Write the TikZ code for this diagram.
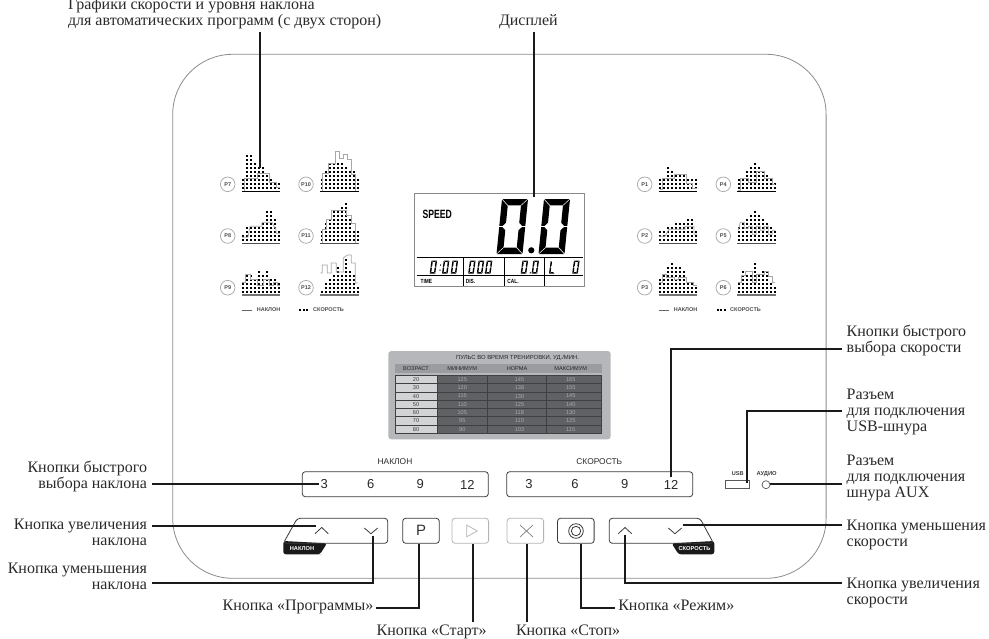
\documentclass[tikz,border=0pt]{standalone}
\usepackage{fontspec}
\setmainfont{Liberation Serif}
\newfontfamily\sff{Liberation Sans}
\definecolor{ink}{HTML}{1A1A1A}
\definecolor{txt}{HTML}{2A2A2A}
\definecolor{panelc}{HTML}{8C8C8C}
\definecolor{btnc}{HTML}{3A3A3A}
\definecolor{btnl}{HTML}{B4B4B4}
\definecolor{card}{HTML}{B6B7BA}
\definecolor{hdr}{HTML}{9B9C9F}
\definecolor{cellL}{HTML}{D2D3D5}
\definecolor{cellD}{HTML}{606164}
\definecolor{cellT}{HTML}{A9AAAC}
\definecolor{lcdb}{HTML}{8A8A8A}
\definecolor{prof}{HTML}{A8A8A8}
\tikzset{
  lead/.style={draw=ink,line width=1.9pt},
  lbl/.style={font=\fontsize{16}{16}\selectfont,text=txt,inner sep=0pt,outer sep=0pt},
  lblL/.style={lbl,align=right,anchor=base east},
  lblR/.style={lbl,align=left,anchor=base west},
  lbl1/.style={lbl,anchor=base west},
  keybox/.style={draw=btnc,line width=0.8pt,rounded corners=3pt,minimum width=36.6pt,minimum height=25pt,inner sep=0pt},
  keylite/.style={keybox,draw=btnl},
  quick/.style={keybox,minimum width=186pt},
  qnum/.style={font=\sff\fontsize{13}{14}\selectfont,text=txt,inner sep=0pt},
  caps/.style={font=\sff\fontsize{8.4}{9}\selectfont,text=txt,inner sep=0pt},
  tabtxt/.style={font=\sff\fontsize{5.6}{6}\selectfont,text=#1,inner sep=0pt},
  tablabel/.style={font=\sff\bfseries\fontsize{5.7}{6}\selectfont,text=white,inner sep=0pt},
  chev/.style={draw=btnc,line width=0.8pt},
  progc/.style={circle,draw=gray!70,line width=0.7pt,minimum size=14.6pt,inner sep=0pt,font=\sff\bfseries\fontsize{5.5}{6}\selectfont,text=black!70},
  legtxt/.style={font=\sff\bfseries\fontsize{5.5}{6}\selectfont,text=black!70,inner sep=0pt,anchor=west},
  lcdlab/.style={font=\sff\bfseries\fontsize{6}{6}\selectfont,text=black,inner sep=0pt,anchor=west,xscale=0.8},
  seg/.style={fill=black,draw=none},
}
% one incline/speed chart: x, y of baseline left, dot heights, profile points, baseline colour
\newcommand\progchart[5]{%
  \begin{scope}[shift={(#1,#2)}]
    \foreach \hh [count=\ci from 0] in {#3}{
      \foreach \rr in {1,...,\hh}{
        \fill[black] ({0.25+4*\ci},{-3.4-4*(\rr-1)-1}) rectangle ++(2,2);
      }
    }
    \draw[prof,line width=0.75pt] plot coordinates {#4};
    \draw[#5,line width=1.2pt] (0,0) -- (38.4,0);
  \end{scope}}
% seven-segment parts
\newcommand\segT{\fill[seg] (\dc,0) -- ({\dw-\dc},0) -- ({\dw-\dt-\dg},\dt) -- ({\dt+\dg},\dt) -- cycle;}
\newcommand\segB{\fill[seg] (\dc,\dh) -- ({\dw-\dc},\dh) -- ({\dw-\dt-\dg},{\dh-\dt}) -- ({\dt+\dg},{\dh-\dt}) -- cycle;}
\newcommand\segLU{\fill[seg] (0,\dc) -- (\dt,{\dt+\dg}) -- (\dt,{\dh/2-\dt/2-\dg}) -- ({\dt/2},{\dh/2-\dg}) -- (0,{\dh/2-\dg}) -- cycle;}
\newcommand\segLL{\fill[seg] (0,{\dh-\dc}) -- (\dt,{\dh-\dt-\dg}) -- (\dt,{\dh/2+\dt/2+\dg}) -- ({\dt/2},{\dh/2+\dg}) -- (0,{\dh/2+\dg}) -- cycle;}
\newcommand\segRU{\fill[seg] (\dw,\dc) -- ({\dw-\dt},{\dt+\dg}) -- ({\dw-\dt},{\dh/2-\dt/2-\dg}) -- ({\dw-\dt/2},{\dh/2-\dg}) -- (\dw,{\dh/2-\dg}) -- cycle;}
\newcommand\segRL{\fill[seg] (\dw,{\dh-\dc}) -- ({\dw-\dt},{\dh-\dt-\dg}) -- ({\dw-\dt},{\dh/2+\dt/2+\dg}) -- ({\dw-\dt/2},{\dh/2+\dg}) -- (\dw,{\dh/2+\dg}) -- cycle;}
% digit zero: x, y, w, h, thickness, slant, gap
\newcommand\lcdzero[7]{%
  \begin{scope}[shift={(#1,#2)},xslant=#6]
    \def\dw{#3}\def\dh{#4}\def\dt{#5}\def\dg{#7}\def\dc{#7}%
    \segT\segB\segLU\segLL\segRU\segRL
  \end{scope}}
\newcommand\lcdL[7]{%
  \begin{scope}[shift={(#1,#2)},xslant=#6]
    \def\dw{#3}\def\dh{#4}\def\dt{#5}\def\dg{#7}\def\dc{#7}%
    \segB\segLU\segLL
  \end{scope}}
\begin{document}
\begin{tikzpicture}[x=1pt,y=-1pt]
\useasboundingbox (0,0) rectangle (989,638);
\fill[white] (0,0) rectangle (989,638);
\clip (0,0) rectangle (989,638);

% panel
\node[draw=panelc,line width=0.8pt,rounded corners=60pt,minimum width=653.4pt,minimum height=524pt,inner sep=0pt] (panel) at (499.4,316.3) {};

% programme charts
\node[progc] (p7) at (227.7,184.3) {P7};
\node[progc] (p8) at (227.7,236) {P8};
\node[progc] (p9) at (227.7,287.7) {P9};
\node[progc] (p10) at (306,184.3) {P10};
\node[progc] (p11) at (306,236) {P11};
\node[progc] (p12) at (306,287.7) {P12};
\node[progc] (p1) at (644.7,184.3) {P1};
\node[progc] (p2) at (644.7,236) {P2};
\node[progc] (p3) at (644.7,287.7) {P3};
\node[progc] (p4) at (723.3,184.3) {P4};
\node[progc] (p5) at (723.3,236) {P5};
\node[progc] (p6) at (723.3,287.7) {P6};

\progchart{242}{191.7}{3,9,9,7,6,6,4,3,2,2}{(2,0)(2,-13)(15,-13)(15,-18)(27,-18)(27,-9)(34,-9)(34,-4)(38,-4)}{black}
\progchart{242}{243.3}{2,4,4,4,4,5,8,8,6,3}{(0,-6)(6,-6)(8,-17)(20,-17)(20,-21)(30,-21)(32,-17)(34,-14)(34,-10)(38,-10)}{black!70}
\progchart{242}{295}{3,5,5,4,6,5,6,4,4,3}{(0,-13)(3,-13)(3,-21)(8,-21)(8,-16)(15,-16)(15,-10)(21,-10)(21,-16)(27,-16)(27,-10)(31,-10)(31,-13)(35,-13)(35,-10)(38,-10)}{black!55}
\progchart{320.3}{191.7}{3,5,7,7,7,7,6,5,5,3}{(2,0)(2,-18)(8,-18)(8,-28)(15,-28)(15,-40)(19,-40)(19,-33)(23,-33)(23,-37)(27,-37)(27,-32)(31,-32)(31,-17)(35,-17)(35,0)}{black}
\progchart{320.3}{243.3}{3,5,6,8,8,9,10,6,3,3}{(2,0)(2,-14)(6,-14)(6,-24)(11,-24)(11,-33)(26,-33)(26,-28)(31,-28)(31,-20)(35,-20)(35,0)}{black!70}
\progchart{320.3}{295}{1,3,4,5,7,5,9,6,5,2}{(0,-22)(2,-22)(2,-30)(7,-30)(7,-22)(11,-22)(11,-32)(16,-32)(16,-23)(23,-23)(23,-37)(27,-40)(31,-40)(31,-32)(35,-32)(35,-12)(38,-12)}{black!55}
\progchart{659}{191.7}{3,3,6,5,4,4,4,3,3,3}{(1,-2)(3,-2)(3,-13)(15,-13)(15,-17)(27,-17)(27,-8)(33,-8)(33,-3)(38,-3)}{black}
\progchart{659}{243.3}{3,3,4,4,5,5,5,6,6,3}{(0,-7)(6,-7)(10,-14)(26,-14)(26,-17)(35,-17)(35,-9)(38,-9)}{black!70}
\progchart{659}{295}{4,5,7,8,7,7,6,3,3,2}{(0,-13)(3,-13)(3,-21)(7,-21)(7,-18)(15,-18)(15,-16)(19,-16)(19,-18)(27,-18)(27,-13)(34,-13)(34,-10)(38,-10)}{black!55}
\progchart{737.3}{191.7}{3,3,5,6,7,6,5,4,3,2}{(1,-1)(3,-1)(3,-13)(11,-13)(11,-9)(19,-9)(19,-20)(27,-20)(27,-13)(35,-13)(35,-7)(38,-7)}{black}
\progchart{737.3}{243.3}{4,5,6,7,8,7,6,5,4,3}{(1,-13)(3,-21)(7,-21)(7,-15)(11,-15)(11,-17)(15,-17)(15,-9)(19,-9)(19,-17)(23,-17)(23,-13)(27,-13)(27,-17)(31,-17)(31,-9)(35,-9)(35,-13)(38,-13)}{black!70}
\progchart{737.3}{295}{3,6,5,5,8,5,6,6,3,2}{(1,-13)(4,-13)(4,-20)(8,-20)(8,-24)(15,-24)(15,-13)(19,-13)(19,-21)(27,-21)(27,-24)(31,-24)(31,-19)(35,-19)(35,-13)(38,-13)}{black!55}

% chart legends
\draw[black!60,line width=0.7pt] (241.7,310) -- (252.3,310);
\node[legtxt] (legA1) at (256.7,310) {НАКЛОН};
\foreach \dx in {0,3.6,7.2}{\fill[black] ({299+\dx},309) rectangle ++(2,2);}
\node[legtxt] (legA2) at (313,310) {СКОРОСТЬ};
\draw[black!60,line width=0.7pt] (659,310) -- (669.3,310);
\node[legtxt] (legB1) at (673.7,310) {НАКЛОН};
\foreach \dx in {0,3.6,7.2}{\fill[black] ({716.7+\dx},309) rectangle ++(2,2);}
\node[legtxt] (legB2) at (730,310) {СКОРОСТЬ};

% display
\node[draw=lcdb,line width=1.1pt,minimum width=170.3pt,minimum height=92.7pt,inner sep=0pt] (display) at (499.2,239.7) {};
\node[font=\sff\bfseries\fontsize{12}{12}\selectfont,inner sep=0pt,anchor=west,xscale=0.72,text=black] (speed) at (422.5,214) {SPEED};
\lcdzero{502}{199}{26}{55}{6.4}{0.1}{0.6}
\lcdzero{544}{199}{26}{55}{6.4}{0.1}{0.6}
\fill[black] (531.3,250.3) circle (3.1);
\draw[black,line width=0.9pt] (416.5,257.5) -- (582.5,257.5);
\draw[black,line width=0.9pt] (416.5,275) -- (582.5,275);
\foreach \vx in {463.3,504,544}{
  \draw[black,line width=0.7pt] (\vx,258) -- (\vx,274.5);
  \draw[black,line width=0.7pt] (\vx,276) -- (\vx,285.5);
}
\foreach \dx in {431.5,443.8,452.5,470,478.6,486.8,522.5,533.4,574}{
  \lcdzero{\dx}{260.5}{5.6}{13}{1.45}{0.14}{0.25}
}
\fill[black] (440.6,265) circle (0.75) (440,270) circle (0.75) (485.2,272.8) circle (0.75) (530.3,272.8) circle (0.75);
\lcdL{550.8}{260.5}{5.6}{13}{1.45}{0.14}{0.25}
\node[lcdlab] (ltime) at (420.5,281) {TIME};
\node[lcdlab] (ldis) at (465.7,281) {DIS.};
\node[lcdlab] (lcal) at (507.3,281) {CAL.};

% pulse table
\node[fill=card,rounded corners=3pt,minimum width=222.4pt,minimum height=88.3pt,inner sep=0pt] (tcard) at (499.5,395.2) {};
\node[tabtxt=black!85,font=\sff\fontsize{5.9}{6}\selectfont] (ttitle) at (517.5,357.8) {ПУЛЬС ВО ВРЕМЯ ТРЕНИРОВКИ, УД./МИН.};
\fill[hdr] (395,364) rectangle (601.7,373);
\node[tabtxt=black!85] (h1) at (416,368.5) {ВОЗРАСТ};
\node[tabtxt=black!85] (h2) at (462.3,368.5) {МИНИМУМ};
\node[tabtxt=black!85] (h3) at (517,368.5) {НОРМА};
\node[tabtxt=black!85] (h4) at (570.7,368.5) {МАКСИМУМ};
\fill[cellL] (395,375.3) rectangle (437.3,433.3);
\fill[cellD] (437.3,375.3) rectangle (601.7,433.3);
\foreach \ry in {375.3,383.6,391.9,400.2,408.4,416.7,425,433.3}{
  \draw[black!75,line width=0.55pt] (395,\ry) -- (601.7,\ry);
}
\foreach \cx in {395,437.3,487.3,546,601.7}{
  \draw[black!75,line width=0.55pt] (\cx,375.3) -- (\cx,433.3);
}
\foreach \aa/\bb/\cc/\dd [count=\ri from 0] in {20/125/145/165,30/120/138/155,40/115/130/145,50/110/125/140,60/105/118/130,70/95/110/125,80/90/103/115}{
  \node[tabtxt=black!75] (ra\ri) at (416,{379.5+8.29*\ri}) {\aa};
  \node[tabtxt=cellT] (rb\ri) at (462.3,{379.5+8.29*\ri}) {\bb};
  \node[tabtxt=cellT] (rc\ri) at (519.5,{379.5+8.29*\ri}) {\cc};
  \node[tabtxt=cellT] (rd\ri) at (570.7,{379.5+8.29*\ri}) {\dd};
}

% quick-select strips
\node[caps] (capI) at (395,462) {НАКЛОН};
\node[caps] (capS) at (599.3,462) {СКОРОСТЬ};
\node[quick] (qI) at (395.3,484.2) {};
\node[quick] (qS) at (599.7,484.2) {};
\node[qnum] (qi3) at (324.3,484.5) {3};
\node[qnum] (qi6) at (370.7,484.5) {6};
\node[qnum] (qi9) at (420.3,484.5) {9};
\node[qnum] (qi12) at (467.3,484.5) {12};
\node[qnum] (qs3) at (529,484.5) {3};
\node[qnum] (qs6) at (575,484.5) {6};
\node[qnum] (qs9) at (624.7,484.5) {9};
\node[qnum] (qs12) at (671,484.5) {12};

% usb / audio
\node[font=\sff\bfseries\fontsize{5.6}{6}\selectfont,text=black!75,inner sep=0pt] (usbcap) at (737.7,474) {USB};
\node[font=\sff\bfseries\fontsize{5.8}{6}\selectfont,text=black!75,inner sep=0pt] (audcap) at (766.7,474) {АУДИО};
\node[draw=black!65,line width=0.7pt,minimum width=23.7pt,minimum height=7.6pt,inner sep=0pt] (usb) at (737.2,484.5) {};
\node[circle,draw=black!65,line width=0.7pt,minimum size=8pt,inner sep=0pt] (aud) at (766,484.7) {};

% incline rocker
\fill[ink,rounded corners=2.5pt] (283.3,541) -- (283.3,554.3) -- (319.5,554.3) -- (320,554.3) -- (327,543.3) -- cycle;
\draw[btnc,line width=0.8pt,rounded corners=3pt] (283.3,543.3) -- (297.3,518.3) -- (387.7,518.3) -- (387.7,543.3) -- cycle;
\node[tablabel] (tabI) at (302,549) {НАКЛОН};
\draw[chev] (315,533.7) -- (321.7,527.5) -- (328.3,533.7);
\draw[chev] (364.3,528) -- (371,533.7) -- (377.7,528);

% speed rocker
\fill[ink,rounded corners=2.5pt] (671.7,543.3) -- (678.5,554.3) -- (714.3,554.3) -- (714.3,541) -- cycle;
\draw[btnc,line width=0.8pt,rounded corners=3pt] (609.3,543.3) -- (609.3,518.3) -- (700,518.3) -- (713.5,543.3) -- cycle;
\node[tablabel] (tabS) at (694.5,549) {СКОРОСТЬ};
\draw[chev] (618.3,533.7) -- (625,527.5) -- (631.7,533.7);
\draw[chev] (668.3,528) -- (675,533.7) -- (681.7,528);

% keys
\node[keybox,font=\sff\fontsize{15}{16}\selectfont,text=black!80] (keyP) at (421,530.8) {P};
\node[keylite] (keyStart) at (470.3,530.8) {};
\draw[btnl,line width=0.7pt] (466.7,525) -- (466.7,536.8) -- (477.3,531) -- cycle;
\node[keylite] (keyStop) at (525.3,530.8) {};
\draw[black!50,line width=0.7pt] (520,525) -- (533,537) (533,525) -- (520,537);
\node[keybox] (keyMode) at (575.8,530.8) {};
\node[circle,draw=btnc,line width=0.8pt,minimum size=14.6pt,inner sep=0pt] (modeA) at (576,531) {};
\node[circle,draw=btnc,line width=0.8pt,minimum size=9.4pt,inner sep=0pt] (modeB) at (576,531) {};

% labels
\node[lbl,align=left,anchor=base west] (lblGraph) at (68,25) {Графики скорости и уровня наклона\\для автоматических программ (с двух сторон)};
\node[lbl1] (lblDisp) at (499,25) {Дисплей};
\node[lblL] (lblQI) at (147,488.3) {Кнопки быстрого\\выбора наклона};
\node[lblL] (lblUI) at (147,545.7) {Кнопка увеличения\\наклона};
\node[lblL] (lblDI) at (147,589) {Кнопка уменьшения\\наклона};
\node[lbl1] (lblProg) at (222.7,610) {Кнопка «Программы»};
\node[lbl1] (lblStart) at (376.7,635) {Кнопка «Старт»};
\node[lbl1] (lblStop) at (516,635) {Кнопка «Стоп»};
\node[lbl1] (lblMode) at (618.3,610) {Кнопка «Режим»};
\node[lblR] (lblQS) at (846.7,352.7) {Кнопки быстрого\\выбора скорости};
\node[lblR] (lblUSB) at (846.7,431.7) {Разъем\\для подключения\\USB-шнура};
\node[lblR] (lblAUX) at (846.7,497.7) {Разъем\\для подключения\\шнура AUX};
\node[lblR] (lblDS) at (846.7,546.7) {Кнопка уменьшения\\скорости};
\node[lblR] (lblUS) at (846.7,604.3) {Кнопка увеличения\\скорости};

% connector ends
\coordinate (tipGraph) at (260,168);
\coordinate (tipDisp) at (534.3,197);
\coordinate (tipQI) at (319,484);
\coordinate (tipUI) at (315.7,525.7);
\coordinate (tipDI) at (373.3,536);
\coordinate (bendDI) at (373.3,583.3);
\coordinate (tipProg) at (419.3,543.5);
\coordinate (bendProg) at (419.3,607.7);
\coordinate (tipStart) at (472.7,543.5);
\coordinate (tipStop) at (526.7,543.5);
\coordinate (tipMode) at (580.7,543.5);
\coordinate (bendMode) at (580.7,607.7);
\coordinate (tipUS) at (625,535);
\coordinate (bendUS) at (625,583.3);
\coordinate (tipDS) at (682.7,525);
\coordinate (tipAUX) at (770,483.7);
\coordinate (tipUSB) at (746.7,483);
\coordinate (bendUSB) at (746.7,410.7);
\coordinate (tipQS) at (671,477);
\coordinate (bendQS) at (671,349);

% connectors
\draw[lead] ([yshift=-4pt]tipGraph |- lblGraph.south) -- (tipGraph);
\draw[lead] ([yshift=-4pt]tipDisp |- lblDisp.south) -- (tipDisp);
\draw[lead] ([xshift=5pt]tipQI -| lblQI.east) -- (tipQI);
\draw[lead] ([xshift=5pt]tipUI -| lblUI.east) -- (tipUI);
\draw[lead] ([xshift=5pt]bendDI -| lblDI.east) -- (bendDI) -- (tipDI);
\draw[lead] ([xshift=2.5pt]bendProg -| lblProg.east) -- (bendProg) -- (tipProg);
\draw[lead] (tipStart) -- ([yshift=2pt]tipStart |- lblStart.north);
\draw[lead] (tipStop) -- ([yshift=2pt]tipStop |- lblStop.north);
\draw[lead] (tipMode) -- (bendMode) -- ([xshift=-3pt]bendMode -| lblMode.west);
\draw[lead] (tipUS) -- (bendUS) -- ([xshift=-5pt]bendUS -| lblUS.west);
\draw[lead] (tipDS) -- ([xshift=-5pt]tipDS -| lblDS.west);
\draw[lead] (tipAUX) -- ([xshift=-5pt]tipAUX -| lblAUX.west);
\draw[lead] (tipUSB) -- (bendUSB) -- ([xshift=-5pt]bendUSB -| lblUSB.west);
\draw[lead] (tipQS) -- (bendQS) -- ([xshift=-5pt]bendQS -| lblQS.west);
\end{tikzpicture}
\end{document}
